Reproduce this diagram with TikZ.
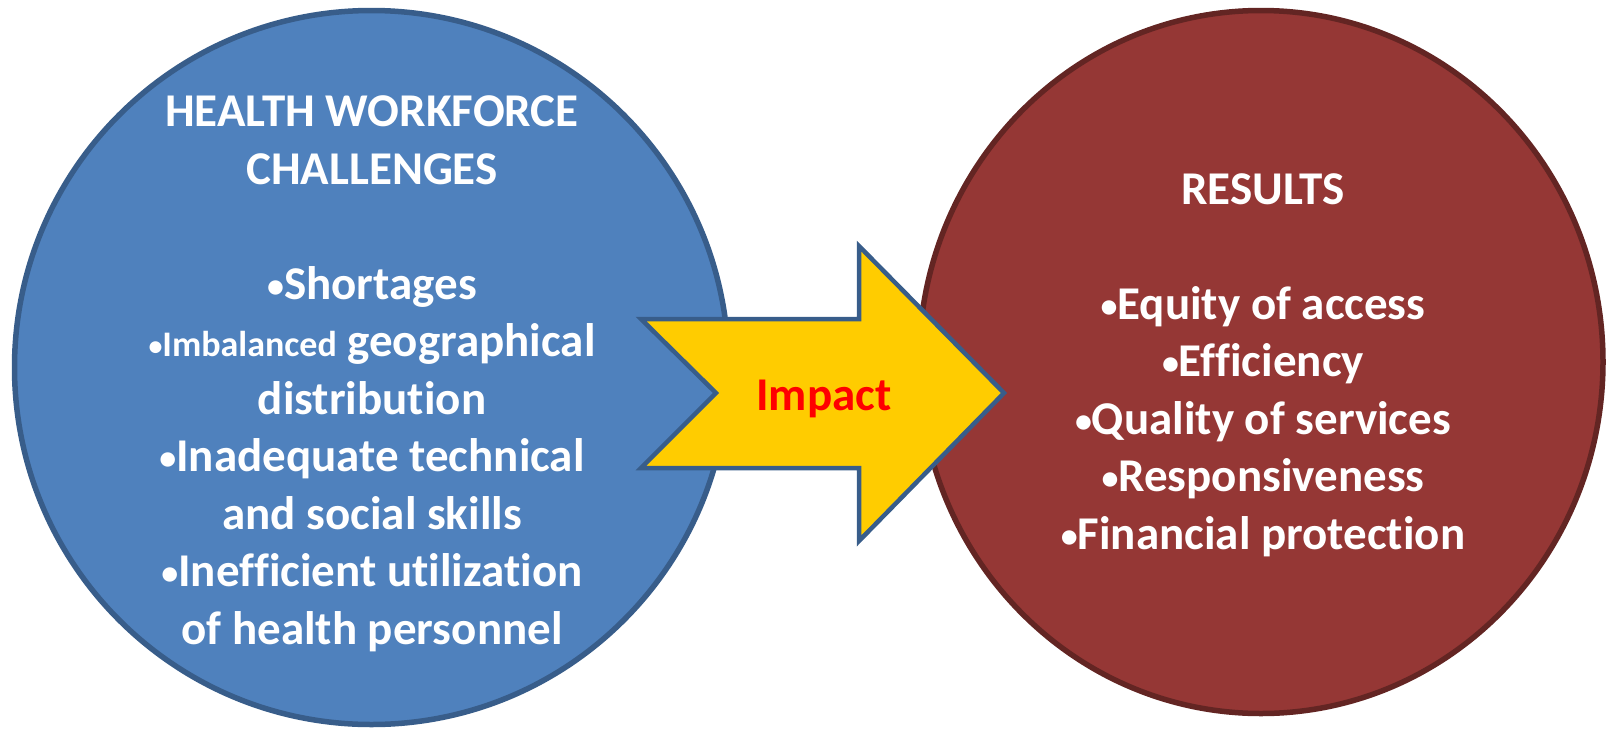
\documentclass[tikz,border=0pt]{standalone}
\usepackage{fontspec}
\setmainfont{Carlito}[Ligatures=NoCommon]
\definecolor{bluefill}{HTML}{4F81BD}
\definecolor{bluedraw}{HTML}{385D8A}
\definecolor{redfill}{HTML}{953735}
\definecolor{reddraw}{HTML}{632523}
\definecolor{arrowfill}{HTML}{FFCC00}
\definecolor{impactred}{HTML}{FF0000}
\newcommand{\bul}{\raisebox{2pt}{\fontsize{34}{40}\selectfont•}}
\newcommand{\smallbul}{\raisebox{1pt}{\fontsize{28}{30}\selectfont•}}
\tikzset{
  bigtext/.style={align=center, text=white, font=\fontsize{47}{57.5}\selectfont\bfseries, inner sep=0pt, anchor=base},
  impacttext/.style={text=impactred, font=\fontsize{47}{57.5}\selectfont\bfseries, inner sep=0pt, anchor=base},
  blockarrow/.style={fill=arrowfill, draw=bluedraw, line width=4.5pt, line join=miter, miter limit=10}
}
\begin{document}
\begin{tikzpicture}[x=1pt, y=-1pt]
\useasboundingbox (0,0) rectangle (1607,729);
% circles
\draw[fill=bluefill, draw=bluedraw, line width=5.5pt] (371.5,367.5) circle [radius=357];
\draw[fill=redfill, draw=reddraw, line width=5.5pt] (1261,362) ellipse [x radius=342, y radius=351.5];
% block arrow
\draw[blockarrow] (641,319) -- (859,319) -- (859,246) -- (1004,393) -- (859,541) -- (859,468) -- (641,468) -- (716,393) -- cycle;
\node[impacttext] (impact) at (824,410) {Impact};
% texts (base anchor = baseline of the last line)
\node[bigtext] (challenges) at (372,644) {HEALTH WORKFORCE\\ CHALLENGES\\[57.5pt]
\bul Shortages\\
{\fontsize{36}{57.5}\selectfont \smallbul Imbalanced} geographical\\
distribution\\
\bul Inadequate technical\\
and social skills\\
\bul Inefficient utilization\\
of health personnel};
\node[bigtext] (results) at (1263,549) {RESULTS\\[57.5pt]
\bul Equity of access\\
\bul Efficiency\\
\bul Quality of services\\
\bul Responsiveness\\
\bul Financial protection};
\end{tikzpicture}
\end{document}
